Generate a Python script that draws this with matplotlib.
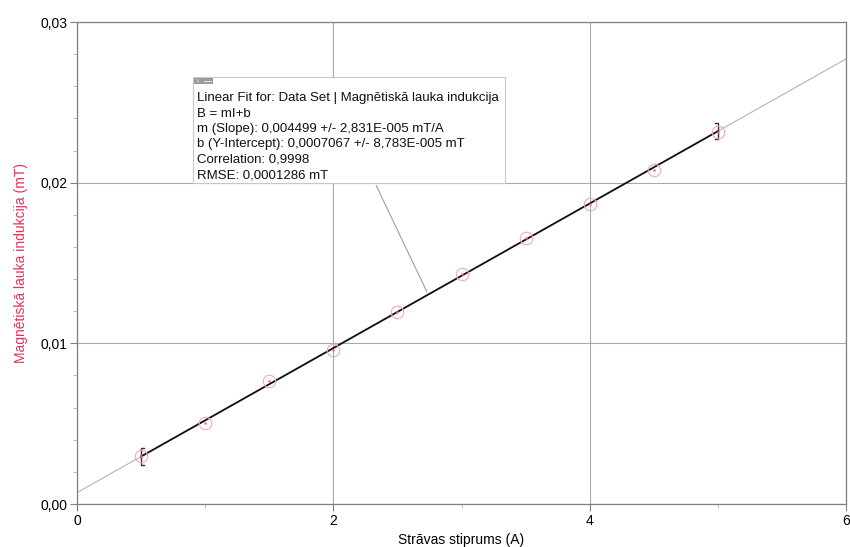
import matplotlib
matplotlib.use("Agg")
import matplotlib.pyplot as plt
from matplotlib.ticker import FuncFormatter, MultipleLocator
from matplotlib.patches import Rectangle
import numpy as np

plt.rcParams['font.family'] = ['Liberation Sans', 'DejaVu Sans']

# Measurements: current (A) vs. magnetic induction (mT)
current = [0.5, 1.0, 1.5, 2.0, 2.5, 3.0, 3.5, 4.0, 4.5, 5.0]
induction = [0.00299, 0.00504, 0.00765, 0.00958, 0.01195,
             0.01431, 0.01655, 0.01867, 0.02078, 0.02315]

# Linear fit parameters B = m*I + b
slope = 0.004499
intercept = 0.0007067
fit_err = 0.0005

fit_lines = [
    "Linear Fit for: Data Set | Magnētiskā lauka indukcija",
    "B = mI+b",
    "m (Slope): 0,004499 +/- 2,831E-005 mT/A",
    "b (Y-Intercept): 0,0007067 +/- 8,783E-005 mT",
    "Correlation: 0,9998",
    "RMSE: 0,0001286 mT",
]

fig = plt.figure(figsize=(8.5, 5.47), dpi=100)
ax = fig.add_axes([77/850, 1-504/547, 769/850, 482/547])

ax.set_xlim(0, 6)
ax.set_ylim(0, 0.03)
ax.xaxis.set_major_locator(MultipleLocator(2))
ax.xaxis.set_minor_locator(MultipleLocator(1))
ax.yaxis.set_major_locator(MultipleLocator(0.01))
ax.yaxis.set_minor_locator(MultipleLocator(0.002))
ax.yaxis.set_major_formatter(FuncFormatter(lambda v, p: f"{v:.2f}".replace('.', ',')))
ax.xaxis.set_major_formatter(FuncFormatter(lambda v, p: f"{v:g}"))
ax.tick_params(which='major', length=5, color='#808080', labelsize=10, pad=2)
ax.tick_params(which='minor', length=3, color='#b0b0b0')
ax.grid(True, which='major', color='#a8a8a8', linewidth=0.8)
for s in ax.spines.values():
    s.set_color('#808080')
    s.set_linewidth(0.9)

ax.set_xlabel("Strāvas stiprums (A)", fontsize=10, labelpad=4)
ax.set_ylabel("Magnētiskā lauka indukcija (mT)", fontsize=10, color='#e8305a', labelpad=9)

# extended fit line (thin gray)
xx = np.array([0, 6])
ax.plot(xx, slope*xx + intercept, color='#b4b4b4', lw=0.8, zorder=2)
# fit line over data range (black)
xr = np.array([min(current), max(current)])
ax.plot(xr, slope*xr + intercept, color='#111111', lw=1.3, zorder=3)

# brackets at fit range ends
for xe, d in [(xr[0], 1), (xr[1], -1)]:
    ye = slope*xe + intercept
    dx = 0.022 * d
    ax.plot([xe + dx, xe, xe, xe + dx], [ye + fit_err, ye + fit_err, ye - fit_err, ye - fit_err],
            color='#333333', lw=1.0, zorder=4)

# data points
ax.plot(current, induction, linestyle='none', marker='o', markersize=9,
        markerfacecolor='none', markeredgecolor='#f4a6bd', markeredgewidth=0.8, zorder=5)
ax.plot(current, induction, linestyle='none', marker='o', markersize=0.8,
        color='#ec6a8a', zorder=5)

# fit annotation box
bx0, bx1, by0, by1 = 0.1508, 0.5566, 0.666, 0.8859
ax.add_patch(Rectangle((bx0, by0), bx1-bx0, by1-by0, transform=ax.transAxes,
                       facecolor='white', edgecolor='#c8c8c8', lw=0.8, zorder=6))
ax.add_patch(Rectangle((bx0 + 0.001, by1 - 0.015), 0.025, 0.013, transform=ax.transAxes,
                       facecolor='#9a9a9a', edgecolor='none', zorder=7))
ax.text(bx0 + 0.004, by1 - 0.0085, "x", transform=ax.transAxes, fontsize=5,
        color='#d0d0d0', va='center', ha='left', zorder=8)
ax.plot([bx0 + 0.014, bx0 + 0.024], [by1 - 0.0085, by1 - 0.0085], transform=ax.transAxes,
        color='#e0e0e0', lw=0.8, zorder=8)
ty = by1 - 0.044
for line in fit_lines:
    ax.text(bx0 + 0.005, ty, line, transform=ax.transAxes, fontsize=9.5,
            va='center', ha='left', color='#111111', zorder=8)
    ty -= 0.032

# leader line from box to fit
xl = 2.74
ax.annotate("", xy=(xl, slope*xl + intercept), xycoords='data',
            xytext=(0.3875, by0), textcoords='axes fraction',
            arrowprops=dict(arrowstyle='-', color='#a0a0a0', lw=0.8), zorder=5)

fig.savefig("out.png", dpi=100)
